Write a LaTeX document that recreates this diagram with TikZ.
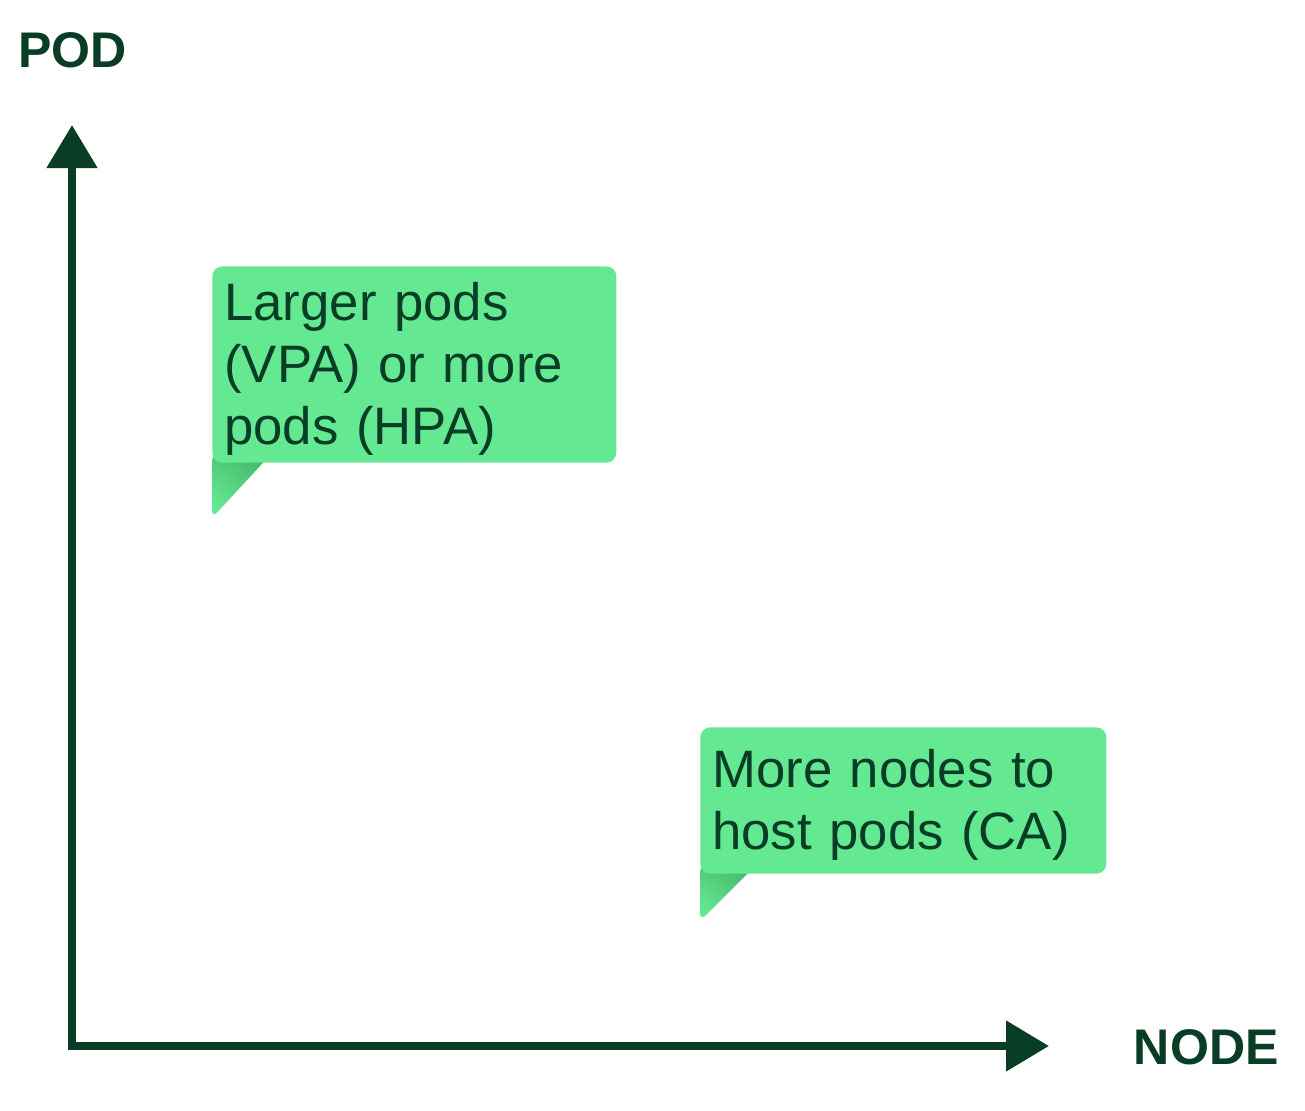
\documentclass[tikz,border=0pt]{standalone}
\usepackage{fontspec}
\setmainfont{Liberation Sans}
\usetikzlibrary{arrows.meta}
\definecolor{axisgreen}{HTML}{0A3D26}
\definecolor{boxgreen}{HTML}{64E892}
\definecolor{tailgreen}{HTML}{45B86B}
\begin{document}
\begin{tikzpicture}[x=0.02cm,y=-0.02cm,inner sep=0pt,
  axis/.style={draw=axisgreen,line width=0.16cm,{Triangle[width=0.98cm,length=0.86cm]}-{Triangle[width=0.98cm,length=0.86cm]}},
  axislabel/.style={text=axisgreen,font=\fontsize{28.5}{34}\selectfont\bfseries},
  callbox/.style={fill=boxgreen,rounded corners=0.2cm,text=axisgreen,align=left,anchor=north west,inner xsep=0.24cm,font=\fontsize{30}{35.4}\selectfont},
  tail/.style={top color=tailgreen,middle color=boxgreen,bottom color=boxgreen,shading angle=-35,rounded corners=0.16cm}]
\useasboundingbox (0,0) rectangle (1305,1110);
\node[axislabel,anchor=base west] (pod) at (18,67) {POD};
\node[axislabel,anchor=base east] (nodeaxis) at (1279,1064) {NODE};
\coordinate (origin) at (72,1046);
\coordinate (podtip) at (72,125);
\coordinate (nodetip) at (1049,1046);
\draw[axis] (podtip) -- (origin) -- (nodetip);
\coordinate (vpacorner) at (212,463);
\coordinate (cacorner) at (700,874);
\shade[tail] (vpacorner) ++(0,-10) -- ++(0,65) -- ++(60,-65) -- cycle;
\shade[tail] (cacorner) ++(0,-10) -- ++(0,57) -- ++(57,-57) -- cycle;
\node[callbox,minimum width=8.08cm,text width=7.6cm,text height=30.6pt,text depth=81.1pt] (vpa) at (212,266) {Larger pods\\(VPA) or more\\pods (HPA)};
\node[callbox,minimum width=8.12cm,text width=7.64cm,text height=34pt,text depth=49.3pt] (ca) at (700,727) {More nodes to\\host pods (CA)};
\end{tikzpicture}
\end{document}
